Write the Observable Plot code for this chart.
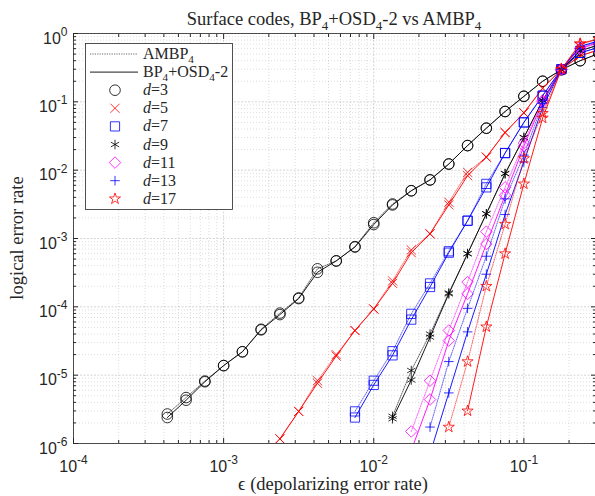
<!DOCTYPE html>
<html>
<head>
<meta charset="utf-8">
<script src="https://cdn.jsdelivr.net/npm/d3@7"></script>
<script src="https://cdn.jsdelivr.net/npm/@observablehq/plot@0.6"></script>
<style>
  html, body { margin: 0; padding: 0; background: #fff; }
  #chart { width: 595px; height: 496px; }
</style>
</head>
<body>
<div id="chart"></div>
<script>
// ---- data ----
const epsilon = [4.217e-4, 5.623e-4, 7.499e-4, 1.0e-3, 1.334e-3, 1.778e-3, 2.371e-3, 3.162e-3,
  4.217e-3, 5.623e-3, 7.499e-3, 1.0e-2, 1.334e-2, 1.778e-2, 2.371e-2, 3.162e-2,
  4.217e-2, 5.623e-2, 7.499e-2, 0.1, 0.1334, 0.1778, 0.2371, 0.3162];

const distances = [3, 5, 7, 9, 11, 13, 17];

const ambp_d3 = [2.7e-6, 4.7e-6, 8.2e-6, 1.38e-5, 2.2e-5, 4.7e-5, 8.1e-5, 1.35e-4, 3.6e-4, 4.7e-4, 7.6e-4, 1.7e-3, 3.2e-3, 5.0e-3, 7.2e-3, 0.0123, 0.0229, 0.0412, 0.0724, 0.121, 0.20, 0.295, 0.40, 0.51];
const osd_d3  = [2.4e-6, 4.3e-6, 8.0e-6, 1.38e-5, 2.2e-5, 4.6e-5, 7.7e-5, 1.32e-4, 3.2e-4, 4.7e-4, 7.5e-4, 1.6e-3, 3.1e-3, 5.0e-3, 7.2e-3, 0.0123, 0.0229, 0.041, 0.072, 0.12, 0.20, 0.295, 0.40, 0.51];

const ambp_d5 = [null, null, null, null, null, null, 1.17e-6, 2.95e-6, 8.3e-6, 2.0e-5, 4.5e-5, 9.3e-5, 2.4e-4, 6.8e-4, 1.17e-3, 3.4e-3, 9.3e-3, 0.0155, 0.0355, 0.069, 0.158, 0.30, 0.47, 0.58];
const osd_d5  = [null, null, null, null, null, null, 1.17e-6, 2.95e-6, 7.6e-6, 1.9e-5, 4.5e-5, 9.3e-5, 2.2e-4, 6.2e-4, 1.17e-3, 3.1e-3, 8.3e-3, 0.0155, 0.0355, 0.069, 0.158, 0.30, 0.47, 0.58];

const ambp_d7 = [null, null, null, null, null, null, null, null, null, null, 2.95e-6, 8.3e-6, 2.24e-5, 7.9e-5, 2.2e-4, 6.5e-4, 1.82e-3, 6.3e-3, 0.0178, 0.050, 0.123, 0.30, 0.52, 0.63];
const osd_d7  = [null, null, null, null, null, null, null, null, null, null, 2.4e-6, 7.2e-6, 1.95e-5, 6.5e-5, 1.95e-4, 6.2e-4, 1.82e-3, 5.6e-3, 0.0178, 0.050, 0.123, 0.30, 0.52, 0.63];

const ambp_d9 = [null, null, null, null, null, null, null, null, null, null, null, null, 2.5e-6, 1.17e-5, 4.0e-5, 1.6e-4, 6.0e-4, 2.3e-3, 8.9e-3, 0.030, 0.105, 0.295, 0.56, 0.68];
const osd_d9  = [null, null, null, null, null, null, null, null, null, null, null, null, 2.3e-6, 8.5e-6, 3.6e-5, 1.55e-4, 6.0e-4, 2.3e-3, 8.9e-3, 0.030, 0.105, 0.295, 0.56, 0.68];

const ambp_d11 = [null, null, null, null, null, null, null, null, null, null, null, null, null, 1.5e-6, 8.3e-6, 4.5e-5, 2.3e-4, 1.26e-3, 5.6e-3, 0.025, 0.105, 0.30, 0.60, 0.72];
const osd_d11  = [null, null, null, null, null, null, null, null, null, null, null, null, null, 7.9e-7, 4.4e-6, 3.2e-5, 1.55e-4, 8.3e-4, 4.3e-3, 0.0224, 0.10, 0.30, 0.61, 0.74];

const ambp_d13 = [null, null, null, null, null, null, null, null, null, null, null, null, null, null, 1.74e-6, 1.58e-5, 9.5e-5, 5.5e-4, 3.8e-3, 0.0166, 0.095, 0.30, 0.64, 0.76];
const osd_d13  = [null, null, null, null, null, null, null, null, null, null, null, null, null, null, 7.1e-7, 5.5e-6, 4.3e-5, 3.0e-4, 2.24e-3, 0.0132, 0.083, 0.30, 0.65, 0.78];

const ambp_d17 = [null, null, null, null, null, null, null, null, null, null, null, null, null, null, null, 1.74e-6, 1.58e-5, 2.0e-4, 1.62e-3, 0.0148, 0.068, 0.30, 0.70, 0.82];
const osd_d17  = [null, null, null, null, null, null, null, null, null, null, null, null, null, null, null, null, 3.0e-6, 5.1e-5, 6.0e-4, 6.3e-3, 0.058, 0.30, 0.71, 0.84];

const xMajorTicks = [1e-4, 1e-3, 1e-2, 1e-1];
const yMajorTicks = [1e-6, 1e-5, 1e-4, 1e-3, 1e-2, 1e-1, 1];
const mantissas = [2, 3, 4, 5, 6, 7, 8, 9];

// ---- build table ----
const series = [
  {d: 3, method: "AMBP", values: ambp_d3},  {d: 3, method: "OSD", values: osd_d3},
  {d: 5, method: "AMBP", values: ambp_d5},  {d: 5, method: "OSD", values: osd_d5},
  {d: 7, method: "AMBP", values: ambp_d7},  {d: 7, method: "OSD", values: osd_d7},
  {d: 9, method: "AMBP", values: ambp_d9},  {d: 9, method: "OSD", values: osd_d9},
  {d: 11, method: "AMBP", values: ambp_d11}, {d: 11, method: "OSD", values: osd_d11},
  {d: 13, method: "AMBP", values: ambp_d13}, {d: 13, method: "OSD", values: osd_d13},
  {d: 17, method: "AMBP", values: ambp_d17}, {d: 17, method: "OSD", values: osd_d17}
];
const rows = series.flatMap(s => s.values
  .map((p, i) => p == null ? null : {eps: epsilon[i], p, d: s.d, method: s.method})
  .filter(Boolean));

const style = {
  3:  {color: "#000000", symbol: "circle",   d3sym: d3.symbolCircle,   r: 5.3},
  5:  {color: "#ff0000", symbol: "times",    d3sym: d3.symbolTimes,    r: 4.2},
  7:  {color: "#0000ff", symbol: "square",   d3sym: d3.symbolSquare,   r: 5.2},
  9:  {color: "#000000", symbol: "asterisk", d3sym: d3.symbolAsterisk, r: 4.5},
  11: {color: "#ff00ff", symbol: "diamond2", d3sym: d3.symbolDiamond2, r: 5.2},
  13: {color: "#0000ff", symbol: "plus",     d3sym: d3.symbolPlus,     r: 3.2},
  17: {color: "#ff0000", symbol: "star",     d3sym: d3.symbolStar,     r: 3.5}
};

const xDomain = [1e-4, 0.3];
const yDomain = [1e-6, 1];
const minorX = xMajorTicks.flatMap(t => mantissas.map(m => m * t)).filter(v => v <= xDomain[1]);
const minorY = yMajorTicks.slice(0, -1).flatMap(t => mantissas.map(m => m * t));

const gridMinor = {stroke: "#9a9a9a", strokeOpacity: 0.55, strokeWidth: 0.6, strokeDasharray: "1,2"};
const gridMajor = {stroke: "#8a8a8a", strokeOpacity: 0.6, strokeWidth: 0.6, strokeDasharray: "2,1.5"};

const marks = [
  Plot.ruleX(minorX, gridMinor),
  Plot.ruleY(minorY, gridMinor),
  Plot.ruleX(xMajorTicks, gridMajor),
  Plot.ruleY(yMajorTicks, gridMajor)
];

for (const s of series) {
  const st = style[s.d];
  const data = rows.filter(r => r.d === s.d && r.method === s.method);
  const isAmbp = s.method === "AMBP";
  marks.push(Plot.line(data, {
    x: "eps", y: "p", stroke: st.color,
    strokeWidth: isAmbp ? 0.6 : 0.9,
    strokeDasharray: isAmbp ? "1.2,1.2" : null,
    clip: true
  }));
  marks.push(Plot.dot(data, {
    x: "eps", y: "p", symbol: st.symbol, r: st.r,
    stroke: st.color, fill: "none", strokeWidth: 0.8, clip: true
  }));
}

const expFmt = d => String(Math.round(Math.log10(d)));
const axisFont = 16;
marks.push(
  Plot.frame({stroke: "#262626", strokeWidth: 0.8}),
  // inward major ticks
  Plot.axisX({anchor: "bottom", ticks: xMajorTicks, tickSize: -5, fill: "none", label: null, stroke: "#262626"}),
  Plot.axisX({anchor: "top", ticks: xMajorTicks, tickSize: -5, fill: "none", label: null, stroke: "#262626"}),
  Plot.axisY({anchor: "left", ticks: yMajorTicks, tickSize: -5, fill: "none", label: null, stroke: "#262626"}),
  Plot.axisY({anchor: "right", ticks: yMajorTicks, tickSize: -5, fill: "none", label: null, stroke: "#262626"}),
  // inward minor ticks
  Plot.axisX({anchor: "bottom", ticks: minorX, tickSize: -3, fill: "none", label: null, stroke: "#262626"}),
  Plot.axisX({anchor: "top", ticks: minorX, tickSize: -3, fill: "none", label: null, stroke: "#262626"}),
  Plot.axisY({anchor: "left", ticks: minorY, tickSize: -3, fill: "none", label: null, stroke: "#262626"}),
  Plot.axisY({anchor: "right", ticks: minorY, tickSize: -3, fill: "none", label: null, stroke: "#262626"}),
  // tick labels
  Plot.axisX({anchor: "bottom", ticks: xMajorTicks, tickSize: 0, tickPadding: 17, tickFormat: expFmt,
              label: null, fontSize: axisFont, fill: "#262626"}),
  Plot.axisY({anchor: "left", ticks: yMajorTicks, tickSize: 0, tickPadding: 6, dy: 5, tickFormat: expFmt,
              label: null, fontSize: axisFont, fill: "#262626"})
);

const svg = Plot.plot({
  width: 595,
  height: 496,
  marginLeft: 73,
  marginRight: 0,
  marginTop: 33,
  marginBottom: 53,
  style: {fontFamily: "'Liberation Sans', Arial, sans-serif", background: "#fff"},
  x: {type: "log", domain: xDomain},
  y: {type: "log", domain: yDomain},
  marks
});

document.getElementById("chart").appendChild(svg);

// ---- superscript tick labels: "10" + exponent ----
const root = d3.select(svg);
root.selectAll('g[aria-label="x-axis tick label"] text, g[aria-label="y-axis tick label"] text').each(function () {
  const t = d3.select(this);
  const e = t.text();
  t.text(null);
  t.append("tspan").text("10");
  t.append("tspan").attr("dy", -7.5).attr("font-size", 12).text(e);
});

// ---- helpers for serif text with sub/superscripts ----
const serif = "'Liberation Serif', 'Times New Roman', serif";
function richText(parent, x, y, parts, size, anchor) {
  const t = parent.append("text")
    .attr("x", x).attr("y", y)
    .attr("font-family", serif).attr("font-size", size)
    .attr("fill", "#262626")
    .attr("text-anchor", anchor || "start");
  let shift = 0;
  for (const p of parts) {
    const sp = t.append("tspan").text(p.t);
    const target = p.sub ? Math.round(size * 0.27) : 0;
    if (target !== shift) { sp.attr("dy", target - shift); shift = target; }
    if (p.sub) sp.attr("font-size", size * 0.7);
    if (p.it) sp.attr("font-style", "italic");
  }
  return t;
}

// title
richText(root, 334, 25, [
  {t: "Surface codes, BP"}, {t: "4", sub: true}, {t: "+OSD"}, {t: "4", sub: true},
  {t: "-2 vs AMBP"}, {t: "4", sub: true}
], 18.5, "middle");

// x label
richText(root, 333, 490, [{t: "\u03f5 (depolarizing error rate)"}], 18.5, "middle");

// y label
richText(root, 0, 0, [{t: "logical error rate"}], 18.5, "middle")
  .attr("transform", "translate(23,238) rotate(-90)");

// ---- legend ----
const lg = root.append("g");
lg.append("rect").attr("x", 85.5).attr("y", 43.5).attr("width", 147).attr("height", 166)
  .attr("fill", "#fff").attr("stroke", "#262626").attr("stroke-width", 0.8);
const rowY = i => 54 + i * 18.1;
lg.append("line").attr("x1", 90).attr("x2", 138).attr("y1", rowY(0)).attr("y2", rowY(0))
  .attr("stroke", "#000").attr("stroke-width", 0.6).attr("stroke-dasharray", "1.2,1.2");
richText(lg, 143, rowY(0) + 5, [{t: "AMBP"}, {t: "4", sub: true}], 16);
lg.append("line").attr("x1", 90).attr("x2", 138).attr("y1", rowY(1)).attr("y2", rowY(1))
  .attr("stroke", "#000").attr("stroke-width", 0.9);
richText(lg, 143, rowY(1) + 5, [{t: "BP"}, {t: "4", sub: true}, {t: "+OSD"}, {t: "4", sub: true}, {t: "-2"}], 16);
distances.forEach((d, i) => {
  const st = style[d];
  const y = rowY(i + 2);
  lg.append("path")
    .attr("d", d3.symbol(st.d3sym, Math.PI * st.r * st.r)())
    .attr("transform", `translate(115,${y})`)
    .attr("fill", "none").attr("stroke", st.color).attr("stroke-width", 0.8);
  richText(lg, 143, y + 5, [{t: "d", it: true}, {t: "=" + d}], 16);
});
</script>
</body>
</html>
